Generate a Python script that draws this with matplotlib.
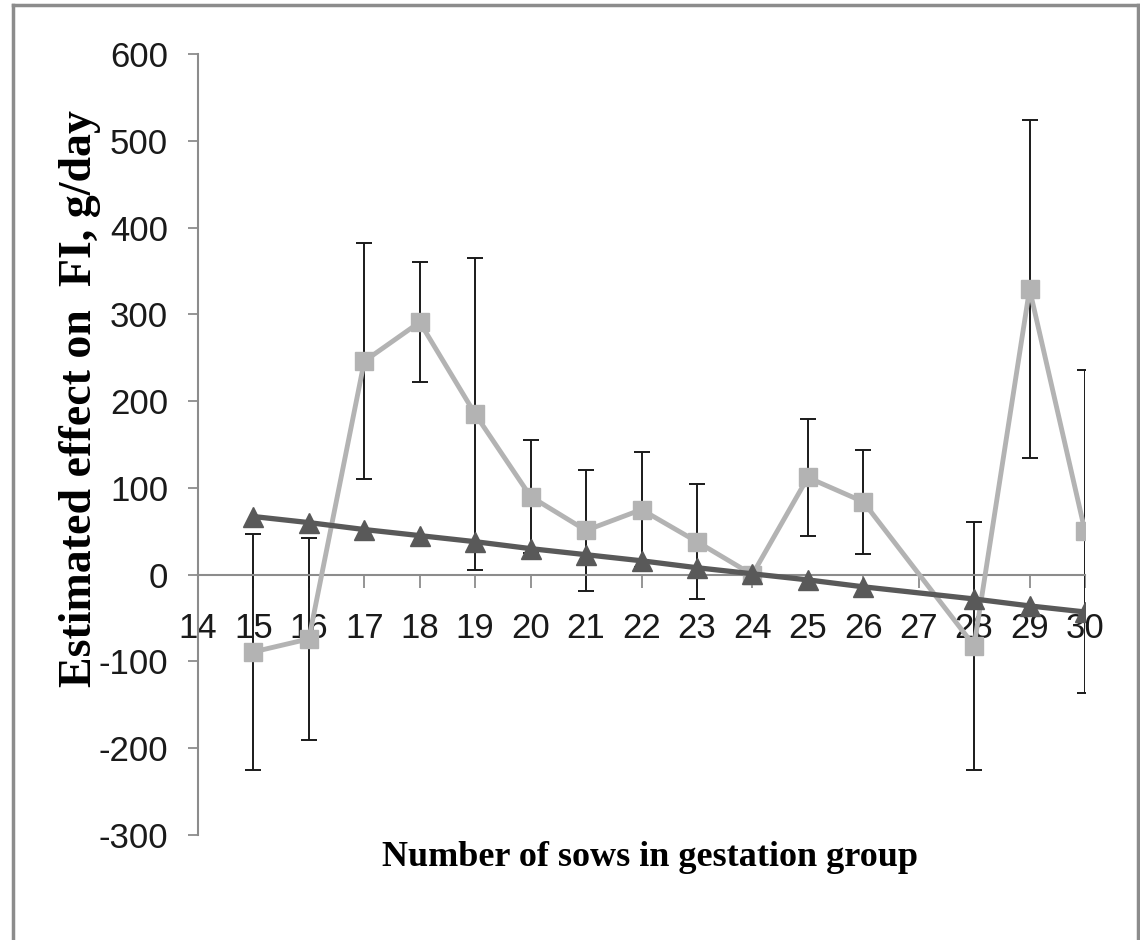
import numpy as np
import matplotlib
matplotlib.use("Agg")
import matplotlib.pyplot as plt
from matplotlib.lines import Line2D

# ---- data ----
sows = [15, 16, 17, 18, 19, 20, 21, 22, 23, 24, 25, 26, 28, 29, 30]
effect = [-89, -74, 246, 291, 185, 90, 51, 75, 38, 0, 112, 84, -82, 329, 50]
effect_err = [136, 116, 136, 69, 180, 65, 70, 66, 66, 0, 67, 60, 143, 195, 186]
trend = [67, 60, 52, 45, 38, 30, 23, 16, 8, 1, -6, -14, -28, -36, -43]
x_ticks = list(range(14, 31))
y_ticks = [-300, -200, -100, 0, 100, 200, 300, 400, 500, 600]

W, H = 1140, 940
fig = plt.figure(figsize=(W / 100, H / 100), dpi=100)
ax = fig.add_axes([198 / W, 1 - 835 / H, (1085 - 198) / W, (835 - 54) / H])

tick_font = ['Liberation Sans Narrow', 'Liberation Sans', 'DejaVu Sans']
serif_font = ['Liberation Serif', 'DejaVu Serif']

ax.errorbar(sows, effect, yerr=effect_err, fmt='none', ecolor='#1a1a1a',
            elinewidth=1.4, capsize=6, capthick=1.4, zorder=2)
ax.plot(sows, effect, color='#b3b3b3', lw=3.5, marker='s', ms=13,
        mfc='#b3b3b3', mec='#b3b3b3', zorder=3)
ax.plot(sows, trend, color='#595959', lw=3.8, marker='^', ms=14,
        mfc='#595959', mec='#595959', zorder=4)

ax.set_xlim(14, 30)
ax.set_ylim(-300, 600)

for s in ['top', 'right']:
    ax.spines[s].set_visible(False)
ax.spines['left'].set_color('#8c8c8c')
ax.spines['left'].set_linewidth(1.5)
ax.spines['bottom'].set_position(('data', 0))
ax.spines['bottom'].set_color('#8c8c8c')
ax.spines['bottom'].set_linewidth(1.5)

ax.set_xticks(x_ticks)
ax.set_xticklabels([str(v) for v in x_ticks], family=tick_font, fontsize=25)
ax.set_yticks(y_ticks)
ax.set_yticklabels([str(v) for v in y_ticks], family=tick_font, fontsize=25)
ax.tick_params(axis='x', direction='out', length=9, width=1.3, color='#8c8c8c',
               pad=18, labelcolor='#1a1a1a')
ax.tick_params(axis='y', direction='out', length=7.5, width=1.3, color='#8c8c8c',
               pad=14, labelcolor='#1a1a1a')

fig.text(80 / W, 1 - 399 / H, 'Estimated effect on  FI, g/day', rotation=90,
         ha='center', va='center', family=serif_font, fontweight='bold',
         fontsize=33, color='#000000')
fig.text(650 / W, 1 - 857 / H, 'Number of sows in gestation group',
         ha='center', va='center', family=serif_font, fontweight='bold',
         fontsize=26, color='#000000')

# outer frame
frame_color = '#8c8c8c'
fig.add_artist(Line2D([13 / W, 13 / W], [0, 1 - 5 / H], transform=fig.transFigure,
                      color=frame_color, lw=2.5))
fig.add_artist(Line2D([13 / W, 1138 / W], [1 - 5 / H, 1 - 5 / H], transform=fig.transFigure,
                      color=frame_color, lw=2.5))
fig.add_artist(Line2D([1138 / W, 1138 / W], [0, 1 - 5 / H], transform=fig.transFigure,
                      color=frame_color, lw=2.5))

fig.savefig('out.png', dpi=100)
